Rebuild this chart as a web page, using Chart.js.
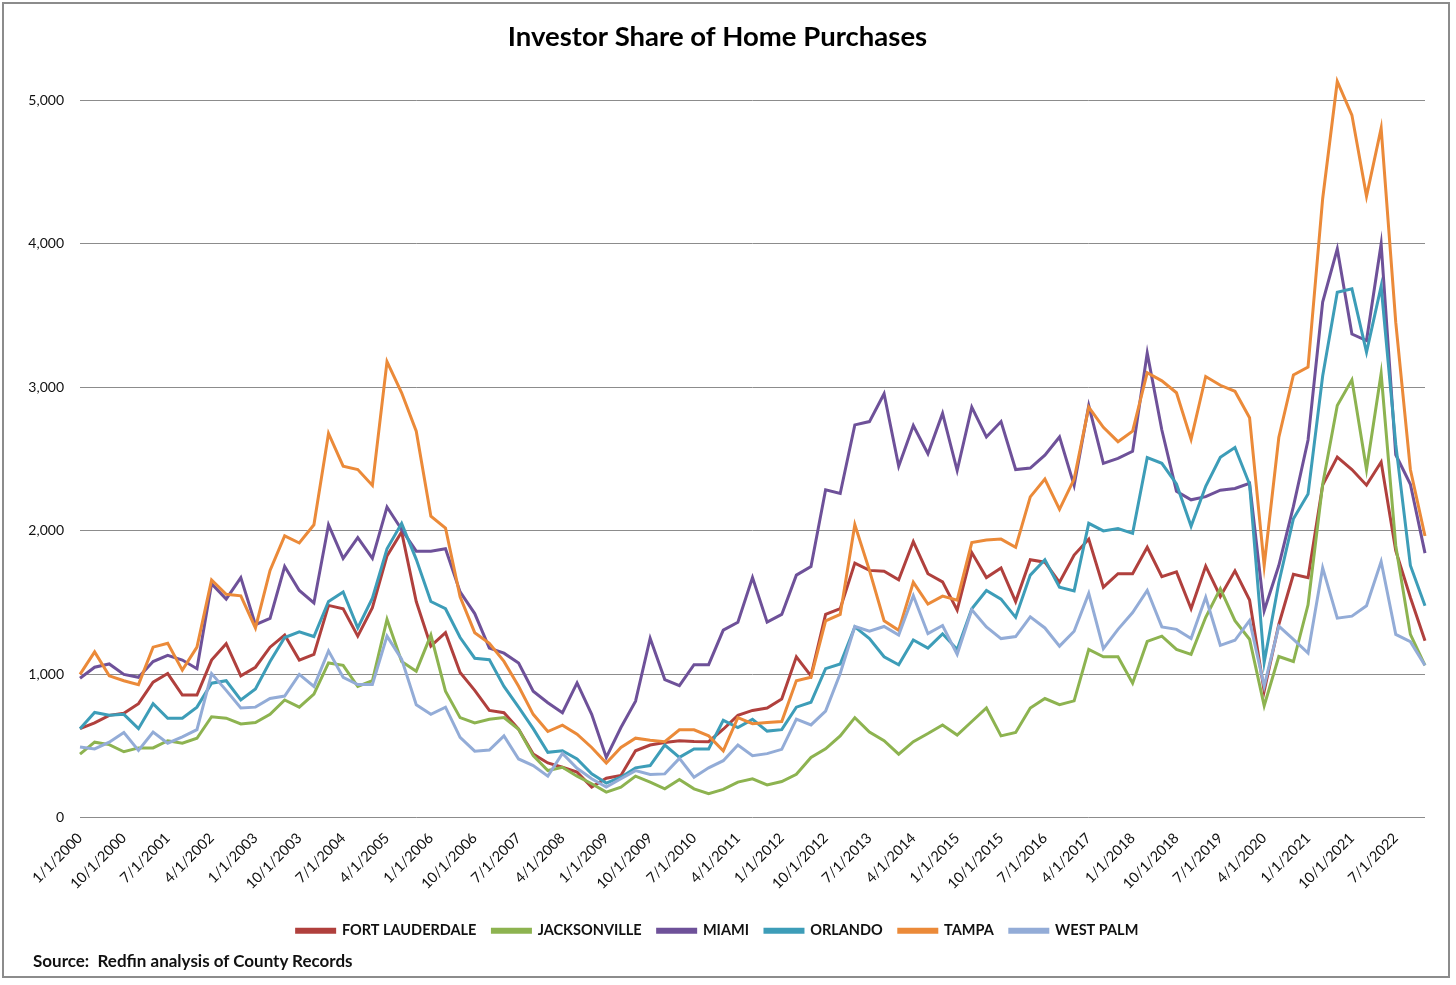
<!DOCTYPE html>
<html>
<head>
<meta charset="utf-8">
<title>Investor Share of Home Purchases</title>
<script src="https://cdn.jsdelivr.net/npm/chart.js@4"></script>
<style>
  body { margin: 0; background: #fff; }
  #wrap { position: relative; width: 1456px; height: 985px; }
  #frame { position: absolute; left: 2px; top: 2px; width: 1448px; height: 976px;
           border: 2px solid #8c8c8c; box-sizing: border-box; pointer-events: none; }
  #source { position: absolute; left: 33px; top: 950px; font: bold 17px Lato, sans-serif; color: #111; }
</style>
</head>
<body>
<div id="wrap">
  <canvas id="investorChart" width="1456" height="985"></canvas>
  <div id="frame"></div>
  <div id="source">Source:&nbsp; Redfin analysis of County Records</div>
</div>
<script>
// quarters 1/1/2000 .. 1/1/2023
const quarters = [];
for (let y = 2000; y <= 2023; y++) {
  for (const m of [1, 4, 7, 10]) {
    if (y === 2023 && m > 1) break;
    quarters.push(m + '/1/' + y);
  }
}

const fortLauderdale = [
  619, 659, 712, 726, 793, 943, 1003, 853, 853, 1097, 1211, 987, 1047, 1187, 1271, 1097, 1137, 1478, 1455, 1264,
  1462, 1823, 1990, 1505, 1194, 1288, 1010, 886,
  746, 730, 615, 442, 380, 350, 316, 212, 274, 293, 465, 505, 523, 535, 530, 528, 615, 712, 746,
  763, 826, 1120, 987, 1415, 1455, 1773, 1722, 1716, 1656, 1923, 1699, 1642,
  1445, 1846, 1672, 1739, 1505, 1796, 1779, 1639, 1829, 1940, 1605, 1699, 1699, 1883, 1679, 1712, 1455, 1752, 1540, 1719,
  1516, 882, 1345, 1695, 1671, 2316, 2511, 2425, 2316, 2477, 1859, 1533, 1232
];
const jacksonville = [
  441, 525, 508, 458, 485, 485, 535, 518, 552, 702, 692, 652, 662, 719, 819, 769, 860, 1077, 1060, 913,
  953, 1381, 1087, 1020, 1271, 880, 696, 659,
  684, 696, 615, 431, 327, 350, 288, 235, 177, 212, 288, 247, 200, 265, 200, 166, 196, 247, 270,
  227, 251, 301, 418, 478, 569, 696, 595, 535, 441, 528, 585, 645,
  575, 669, 763, 569, 592, 763, 829, 786, 813, 1171, 1120, 1120, 936, 1227, 1264, 1171, 1137, 1395, 1595, 1372,
  1242, 779, 1122, 1087, 1482, 2322, 2871, 3050, 2425, 3094, 1894, 1276, 1060
];
const miami = [
  970, 1047, 1070, 997, 977, 1087, 1130, 1097, 1037, 1629, 1522, 1672, 1344, 1388, 1749, 1582, 1495, 2040, 1806, 1950,
  1806, 2164, 2007, 1856, 1856, 1873, 1572, 1421,
  1180, 1145, 1076, 880, 800, 730, 938, 719, 419, 627, 811, 1249, 961, 919, 1065, 1065, 1306, 1361, 1672,
  1361, 1415, 1689, 1749, 2284, 2258, 2736, 2759, 2953, 2448, 2732, 2535, 2816,
  2418, 2860, 2652, 2759, 2425, 2435, 2525, 2652, 2314, 2870, 2468, 2502, 2552, 3237, 2700, 2274, 2214, 2236, 2281, 2293,
  2329, 1441, 1756, 2168, 2631, 3592, 3962, 3369, 3324, 3997, 2528, 2322, 1842
];
const orlando = [
  619, 732, 712, 719, 619, 793, 692, 692, 769, 936, 953, 819, 896, 1087, 1254, 1294, 1261, 1505, 1572, 1321,
  1528, 1873, 2050, 1799, 1505, 1455, 1254, 1110,
  1100, 913, 769, 619, 454, 465, 408, 304, 240, 281, 346, 362, 505, 419, 477, 477, 677, 627, 684,
  602, 612, 769, 803, 1037, 1070, 1328, 1247, 1120, 1064, 1237, 1181, 1280,
  1171, 1455, 1582, 1522, 1395, 1689, 1796, 1605, 1579, 2050, 1997, 2013, 1980, 2508, 2468, 2324, 2030, 2308, 2510, 2578,
  2322, 1081, 1636, 2082, 2254, 3077, 3660, 3684, 3242, 3702, 2600, 1756, 1475
];
const tampa = [
  997, 1154, 987, 953, 926, 1187, 1214, 1027, 1187, 1655, 1555, 1545, 1321, 1722, 1963, 1913, 2040, 2676, 2448, 2425,
  2314, 3177, 2960, 2692, 2100, 2017, 1538, 1288,
  1214, 1088, 915, 719, 599, 643, 581, 488, 380, 488, 553, 539, 528, 611, 611, 569, 465, 696, 654,
  662, 669, 953, 977, 1371, 1415, 2040, 1722, 1371, 1304, 1639, 1488, 1543,
  1515, 1916, 1933, 1940, 1883, 2234, 2358, 2147, 2358, 2860, 2719, 2619, 2692, 3100, 3043, 2960, 2635, 3073, 3012, 2970,
  2786, 1756, 2648, 3084, 3139, 4312, 5129, 4895, 4329, 4803, 3450, 2425, 1962
];
const westPalm = [
  492, 478, 525, 592, 468, 595, 518, 562, 612, 1003, 886, 763, 769, 829, 846, 997, 913, 1161, 977, 926,
  926, 1264, 1104, 786, 719, 769, 559, 462,
  470, 569, 408, 362, 288, 447, 343, 270, 212, 270, 327, 300, 304, 412, 281, 346, 396, 505, 431,
  445, 475, 686, 645, 742, 1003, 1331, 1298, 1331, 1271, 1545, 1281, 1338,
  1137, 1448, 1328, 1247, 1261, 1398, 1321, 1194, 1298, 1562, 1177, 1311, 1428, 1582, 1328, 1311, 1247, 1535, 1200, 1235,
  1372, 916, 1334, 1242, 1146, 1739, 1389, 1403, 1475, 1784, 1276, 1225, 1060
];

const yTicks = [0, 1000, 2000, 3000, 4000, 5000];

function line(label, data, color) {
  return {
    label: label,
    data: data,
    borderColor: color,
    backgroundColor: color,
    borderWidth: 3,
    pointRadius: 0,
    tension: 0,
    clip: false
  };
}

// listed in reverse so later series draw on top (as in the original); legend is reversed back
const datasets = [
  line('WEST PALM', westPalm, '#93acd7'),
  line('TAMPA', tampa, '#eb8a39'),
  line('ORLANDO', orlando, '#3d9db8'),
  line('MIAMI', miami, '#6e5199'),
  line('JACKSONVILLE', jacksonville, '#8db350'),
  line('FORT LAUDERDALE', fortLauderdale, '#b0403d')
];

const investorChart = new Chart(document.getElementById('investorChart'), {
  type: 'line',
  data: { labels: quarters, datasets: datasets },
  options: {
    responsive: false,
    animation: false,
    layout: { padding: { left: 10, right: 31, top: 0, bottom: 37 } },
    plugins: {
      title: {
        display: true,
        text: 'Investor Share of Home Purchases',
        color: '#000',
        font: { family: 'Lato', size: 27.5, weight: 'bold' },
        padding: { top: 21, bottom: 46 }
      },
      legend: {
        position: 'bottom',
        reverse: true,
        labels: {
          boxWidth: 38,
          boxHeight: 3,
          padding: 16,
          color: '#111',
          font: { family: 'Lato', size: 14.5, weight: 'bold' }
        }
      },
      tooltip: { enabled: false }
    },
    scales: {
      x: {
        grid: { display: false, drawTicks: false },
        border: { display: false },
        afterFit: function (scale) { scale.height = 90; },
        ticks: {
          autoSkip: false,
          minRotation: 45,
          maxRotation: 45,
          padding: 12,
          color: '#111',
          font: { family: 'Lato', size: 14.5 },
          callback: function (val, idx) { return idx % 3 === 0 ? quarters[idx] : ''; }
        }
      },
      y: {
        min: yTicks[0],
        max: yTicks[yTicks.length - 1],
        afterBuildTicks: function (scale) { scale.ticks = yTicks.map(v => ({ value: v })); },
        afterFit: function (scale) { scale.width = 70; },
        grid: { color: '#8c8c8c', lineWidth: 1, drawTicks: false },
        border: { display: false },
        ticks: {
          padding: 16,
          color: '#111',
          font: { family: 'Lato', size: 14 },
          callback: function (v) { return v.toLocaleString('en-US'); }
        }
      }
    }
  }
});
</script>
</body>
</html>
